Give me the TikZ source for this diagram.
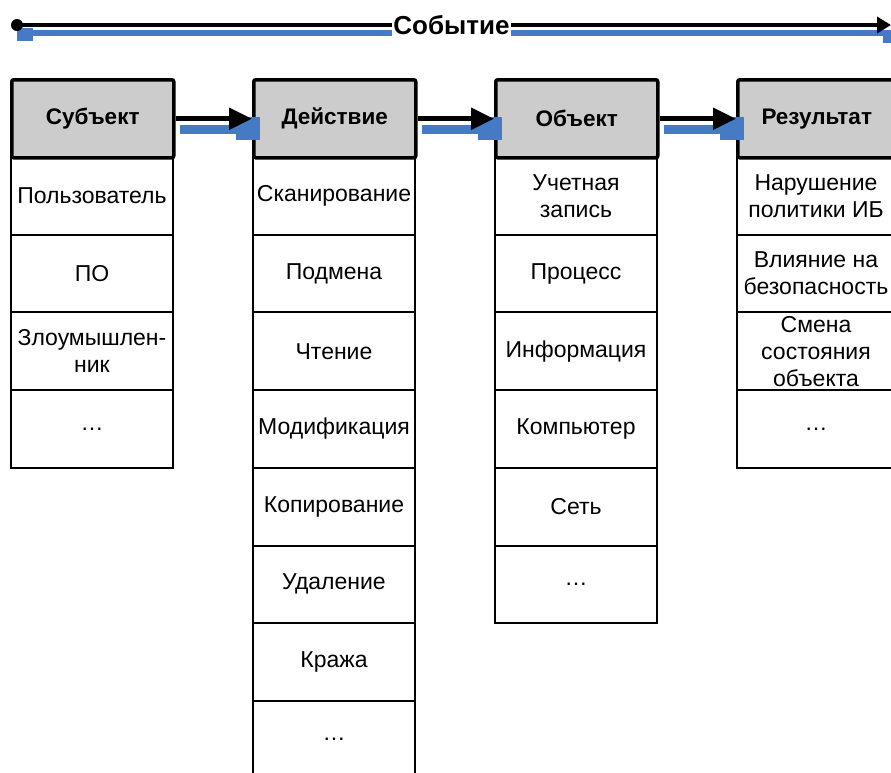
\documentclass[tikz,border=0pt]{standalone}
\usepackage{fontspec}
\setmainfont{Liberation Sans}
\usetikzlibrary{arrows.meta}
\definecolor{hdrgray}{RGB}{204,204,204}
\definecolor{shblue}{RGB}{71,122,196}
\begin{document}
\begin{tikzpicture}[x=1pt,y=-1pt,
  hdr/.style={draw,line width=3.5pt,fill=hdrgray,rounded corners=2pt,minimum width=162pt,minimum height=78pt,anchor=north west,inner sep=0pt,font=\fontsize{22.5}{26}\selectfont\bfseries},
  cell/.style={draw,line width=2pt,minimum width=162pt,minimum height=77.7pt,anchor=north west,inner sep=0pt,align=center,font=\fontsize{23}{27}\selectfont},
  cellr/.style={cell,minimum width=158pt},
  conn/.style={line width=5pt,-{Triangle[length=23pt,width=21pt]}},
  sh/.style={fill=shblue}]
\useasboundingbox (0,0) rectangle (891,772);
\clip (0,0) rectangle (891,772);
% cells
\foreach \t [count=\i] in {Пользователь, ПО, {Злоумышлен-\\ник}, …}
  \node[cell] (a\i) at (10,{156+(\i-1)*77.7}) {\t};
\foreach \t [count=\i] in {Сканирование, Подмена, Чтение, Модификация, Копирование, Удаление, Кража, …}
  \node[cell] (b\i) at (252,{156+(\i-1)*77.7}) {\t};
\foreach \t [count=\i] in {{Учетная\\запись}, Процесс, Информация, Компьютер, Сеть, …}
  \node[cell] (c\i) at (494,{156+(\i-1)*77.7}) {\t};
\foreach \t [count=\i] in {{Нарушение\\политики ИБ}, {Влияние на\\безопасность}, {Смена\\состояния\\объекта}, …}
  \node[cellr] (d\i) at (736,{156+(\i-1)*77.7}) {\t};
% headers
\node[hdr] (h1) at (10,78) {Субъект};
\node[hdr] (h2) at (252,78) {Действие};
\node[hdr] (h3) at (494,78) {Объект};
\node[hdr,minimum width=158pt] (h4) at (736,78) {Результат};
% connectors between headers
\foreach \p/\q in {h1/h2,h2/h3,h3/h4}{
  \fill[sh] ([xshift=4pt,yshift=-6pt]\p.east) rectangle ([xshift=-12pt,yshift=-15pt]\q.west);
  \fill[sh] ([xshift=-16pt,yshift=2pt]\q.west) rectangle ([xshift=8pt,yshift=-21pt]\q.west);
  \draw[conn] (\p.east) -- (\q.west);
}
% top event arrow
\coordinate (evs) at (17,25);
\coordinate (eve) at (891,25);
\node[font=\fontsize{26}{30}\selectfont\bfseries,inner sep=1pt] (ev) at (451.5,25) {Событие};
\fill[sh] ([yshift=-5pt]evs) rectangle ([yshift=-11pt]ev.west);
\fill[sh] ([yshift=-3pt]evs) rectangle ([xshift=16pt,yshift=-16pt]evs);
\fill[sh] ([yshift=-5pt]ev.east) rectangle ([xshift=-8pt,yshift=-11pt]eve);
\fill[sh] ([xshift=-8pt,yshift=-5pt]eve) rectangle ([xshift=8pt,yshift=-18pt]eve);
\draw[line width=4pt] (evs) -- (ev.west);
\draw[line width=4pt,-{Triangle[length=14pt,width=16pt]}] (ev.east) -- (eve);
\fill (evs) circle (6pt);
\end{tikzpicture}
\end{document}
